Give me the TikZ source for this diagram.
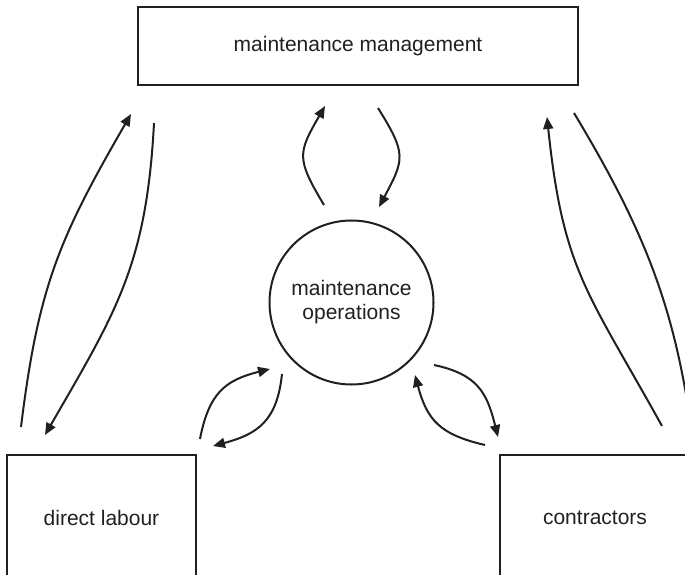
\documentclass[tikz,border=0pt]{standalone}
\usepackage{fontspec}
\setmainfont{Liberation Sans}
\usetikzlibrary{arrows.meta}
\definecolor{inkgray}{HTML}{231F20}
\begin{document}
\begin{tikzpicture}[x=1pt,y=1pt,
  every node/.style={font=\fontsize{21}{24}\selectfont, text=inkgray},
  boxnode/.style={draw=inkgray, line width=2pt, inner sep=0pt, rectangle},
  ringnode/.style={draw=inkgray, line width=2pt, inner sep=0pt, circle, minimum size=164pt, align=center},
  flow/.style={draw=inkgray, line width=2pt, -{Triangle[length=12pt,width=10pt]}}]
\useasboundingbox (0,0) rectangle (685,574);
\clip (0,0) rectangle (685,574);
% nodes
\node[boxnode, minimum width=440pt, minimum height=78pt] (mgmt) at (358,528) {maintenance management};
\node[ringnode] (ops) at (351.5,271.5) {maintenance\\operations};
\node[boxnode, minimum width=189pt, minimum height=126pt] (dl) at (101.5,56) {direct labour};
\node[boxnode, minimum width=190pt, minimum height=126pt] (ctr) at (595,56) {contractors};
% connector end points
\coordinate (a1) at (21,147);  \coordinate (a2) at (131,460);
\coordinate (b1) at (154,451); \coordinate (b2) at (45,139);
\coordinate (c1) at (662,148); \coordinate (c2) at (547,457);
\coordinate (d1) at (574,461); \coordinate (d2) at (693,134);
\coordinate (e1) at (324,369); \coordinate (e2) at (325,468);
\coordinate (f1) at (378,466); \coordinate (f2) at (379,367);
\coordinate (g1) at (200,135); \coordinate (g2) at (270,205);
\coordinate (h1) at (282,200); \coordinate (h2) at (213,128);
\coordinate (i1) at (434,209); \coordinate (i2) at (498,137);
\coordinate (j1) at (485,129); \coordinate (j2) at (415,199);
% direct labour <-> management
\draw[flow] (a1) to[out=83,in=240,looseness=1.1] (a2);
\draw[flow] (b1) to[out=267,in=60,looseness=1.1] (b2);
% contractors <-> management
\draw[flow] (c1) to[out=119,in=276,looseness=1.2] (c2);
\draw[flow] (d1) to[out=301,in=98] (d2);
% operations <-> management
\draw[flow] (e1) to[out=121,in=240,looseness=1.4] (e2);
\draw[flow] (f1) to[out=302,in=62,looseness=1.4] (f2);
% direct labour <-> operations
\draw[flow] (g1) to[out=79,in=194,looseness=1.2] (g2);
\draw[flow] (h1) to[out=264,in=15,looseness=1.2] (h2);
% operations <-> contractors
\draw[flow] (i1) to[out=348,in=104,looseness=1.2] (i2);
\draw[flow] (j1) to[out=167,in=285,looseness=1.2] (j2);
\end{tikzpicture}
\end{document}
